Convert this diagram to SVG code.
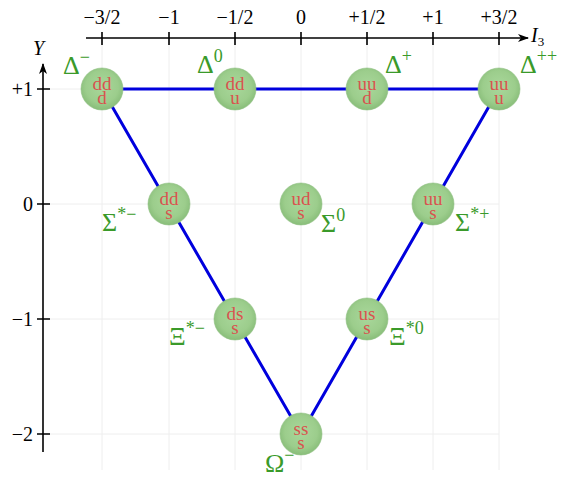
<svg xmlns="http://www.w3.org/2000/svg" width="569" height="477" viewBox="0 0 569 477">
<defs>
<radialGradient id="ball" cx="50%" cy="45%" r="55%">
<stop offset="0" stop-color="#a9d79b"/>
<stop offset="0.7" stop-color="#9ccd8c"/>
<stop offset="1" stop-color="#88bd79"/>
</radialGradient>
<marker id="arr" markerWidth="12" markerHeight="10" refX="10" refY="5" orient="auto" markerUnits="userSpaceOnUse">
<path d="M0,1 L11,5 L0,9 L3,5 Z" fill="#000"/>
</marker>
</defs>
<style>
.grid{stroke:#eeeeee;stroke-width:1;fill:none}
.axis{stroke:#000;stroke-width:1.6;fill:none}
.tick{stroke:#000;stroke-width:1.6}
.edge{stroke:#0000dd;stroke-width:3;fill:none}
.lbl{font-family:"Liberation Serif","DejaVu Serif",serif;font-size:20px;fill:#000}
.q{font-family:"Liberation Serif","DejaVu Serif",serif;font-size:19px;fill:#d9534f;text-anchor:middle}
.name{font-family:"Liberation Serif","DejaVu Serif",serif;font-size:26px;fill:#3a9a2a}
.sup{font-size:18px}
.ball{fill:url(#ball);stroke:#8fbf82;stroke-width:0.6}
</style>
<rect width="569" height="477" fill="#fff"/>
<g id="grid">
<path class="grid" d="M102,38V470 M169,38V470 M235,38V470 M301,38V470 M367,38V470 M433,38V470 M499,38V470 M43,89H499 M43,204H499 M43,319H499 M43,434H499"/>
</g>
<g id="axes">
<line class="axis" x1="86" y1="38" x2="528" y2="38" marker-end="url(#arr)"/>
<line class="axis" x1="43" y1="452" x2="43" y2="64" marker-end="url(#arr)"/>
<path class="tick" d="M102,32V45 M169,32V45 M235,32V45 M301,32V45 M367,32V45 M433,32V45 M499,32V45"/>
<path class="tick" d="M37,89H50 M37,204H50 M37,319H50 M37,434H50"/>
<g class="lbl" text-anchor="middle">
<text x="102" y="24">−3/2</text>
<text x="169" y="24">−1</text>
<text x="235" y="24">−1/2</text>
<text x="301" y="24">0</text>
<text x="367" y="24">+1/2</text>
<text x="433" y="24">+1</text>
<text x="499" y="24">+3/2</text>
</g>
<g class="lbl" text-anchor="end">
<text x="33" y="96">+1</text>
<text x="33" y="211">0</text>
<text x="33" y="326">−1</text>
<text x="33" y="441">−2</text>
</g>
<text class="lbl" x="531" y="42" font-style="italic">I<tspan font-size="13" font-style="normal" dy="4">3</tspan></text>
<text class="lbl" x="33" y="55" font-style="italic">Y</text>
</g>
<g id="connectors">
<path class="edge" d="M102,89 L499,89 L301,434 Z"/>
</g>
<g id="dminus"><circle class="ball" cx="102" cy="89" r="21"/><text class="q"><tspan x="102" y="90">dd</tspan><tspan x="102" dy="14">d</tspan></text><text class="name" x="63" y="74">Δ<tspan class="sup" dy="-11">−</tspan></text></g>
<g id="dzero"><circle class="ball" cx="235" cy="89" r="21"/><text class="q"><tspan x="235" y="90">dd</tspan><tspan x="235" dy="14">u</tspan></text><text class="name" x="197" y="73">Δ<tspan class="sup" dy="-11">0</tspan></text></g>
<g id="dplus"><circle class="ball" cx="367" cy="89" r="21"/><text class="q"><tspan x="367" y="90">uu</tspan><tspan x="367" dy="14">d</tspan></text><text class="name" x="385" y="73">Δ<tspan class="sup" dy="-11">+</tspan></text></g>
<g id="dplusplus"><circle class="ball" cx="499" cy="89" r="21"/><text class="q"><tspan x="499" y="90">uu</tspan><tspan x="499" dy="14">u</tspan></text><text class="name" x="520" y="73">Δ<tspan class="sup" dy="-11">++</tspan></text></g>
<g id="sigmaminus"><circle class="ball" cx="169" cy="204" r="21"/><text class="q"><tspan x="169" y="205">dd</tspan><tspan x="169" dy="14">s</tspan></text><text class="name" x="102" y="231">Σ<tspan class="sup" dy="-11">*−</tspan></text></g>
<g id="sigmazero"><circle class="ball" cx="301" cy="204" r="21"/><text class="q"><tspan x="301" y="205">ud</tspan><tspan x="301" dy="14">s</tspan></text><text class="name" x="321" y="232">Σ<tspan class="sup" dy="-11">0</tspan></text></g>
<g id="sigmaplus"><circle class="ball" cx="433" cy="204" r="21"/><text class="q"><tspan x="433" y="205">uu</tspan><tspan x="433" dy="14">s</tspan></text><text class="name" x="455" y="231">Σ<tspan class="sup" dy="-11">*+</tspan></text></g>
<g id="ximinus"><circle class="ball" cx="235" cy="319" r="21"/><text class="q"><tspan x="235" y="320">ds</tspan><tspan x="235" dy="14">s</tspan></text><text class="name" x="169" y="345">Ξ<tspan class="sup" dy="-11">*−</tspan></text></g>
<g id="xizero"><circle class="ball" cx="367" cy="319" r="21"/><text class="q"><tspan x="367" y="320">us</tspan><tspan x="367" dy="14">s</tspan></text><text class="name" x="389" y="345">Ξ<tspan class="sup" dy="-11">*0</tspan></text></g>
<g id="omega"><circle class="ball" cx="301" cy="434" r="21"/><text class="q"><tspan x="301" y="435">ss</tspan><tspan x="301" dy="14">s</tspan></text><text class="name" x="265" y="472">Ω<tspan class="sup" dy="-11">−</tspan></text></g>
</svg>
